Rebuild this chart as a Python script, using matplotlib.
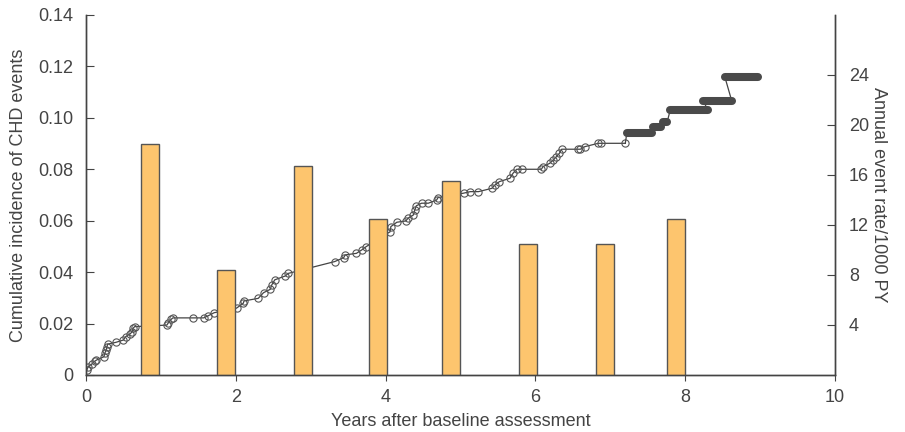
import numpy as np
import matplotlib
matplotlib.use("Agg")
import matplotlib.pyplot as plt

plt.rcParams['font.family'] = ['Liberation Sans', 'DejaVu Sans']

# cumulative incidence curve (years, incidence)
t_pts = [0.01, 0.03, 0.08, 0.12, 0.14, 0.24, 0.25, 0.27, 0.28, 0.29, 0.40, 0.50, 0.53,
         0.59, 0.62, 0.63, 0.65,
         1.08, 1.10, 1.14, 1.16, 1.43, 1.57, 1.63, 1.71,
         2.01, 2.10, 2.11, 2.30, 2.37, 2.46, 2.48, 2.52, 2.66, 2.70,
         3.32, 3.44, 3.46, 3.61, 3.68, 3.74,
         4.06, 4.07, 4.15, 4.27, 4.30, 4.37, 4.39, 4.41, 4.48, 4.57, 4.68, 4.70,
         5.04, 5.13, 5.24, 5.42, 5.46, 5.52, 5.66, 5.70, 5.75, 5.82, 6.08, 6.10,
         6.19, 6.24, 6.28, 6.32, 6.35, 6.57, 6.60, 6.66, 6.84, 6.88, 7.20]
ci_pts = [0.0019, 0.0032, 0.0043, 0.0054, 0.0058, 0.0071, 0.0084, 0.0097, 0.0110, 0.0120,
          0.0127, 0.0136, 0.0149, 0.0160, 0.0169, 0.0182, 0.0188,
          0.0194, 0.0203, 0.0217, 0.0222, 0.0222, 0.0222, 0.0230, 0.0242,
          0.0260, 0.0279, 0.0288, 0.0298, 0.0320, 0.0333, 0.0350, 0.0370, 0.0385, 0.0395,
          0.0441, 0.0456, 0.0467, 0.0473, 0.0486, 0.0499,
          0.0557, 0.0577, 0.0594, 0.0599, 0.0610, 0.0622, 0.0642, 0.0658, 0.0668, 0.0668,
          0.0680, 0.0690,
          0.0707, 0.0713, 0.0713, 0.0726, 0.0739, 0.0752, 0.0765, 0.0784, 0.0800, 0.0800,
          0.0800, 0.0810, 0.0823, 0.0836, 0.0849, 0.0862, 0.0878, 0.0878, 0.0878, 0.0888,
          0.0901, 0.0901, 0.0901]

# late follow-up: dense marker runs (start year, end year, incidence)
band_start = [7.22, 7.57, 7.70, 7.80, 8.24, 8.53]
band_end = [7.55, 7.68, 7.76, 8.30, 8.62, 8.97]
band_ci = [0.0940, 0.0964, 0.0985, 0.1031, 0.1067, 0.1158]

# annual event rate bars
bar_x = [0.85, 1.87, 2.90, 3.90, 4.87, 5.90, 6.93, 7.88]
bar_rate = [18.5, 8.4, 16.7, 12.5, 15.5, 10.5, 10.5, 12.5]

txt = '#444444'
fig = plt.figure(figsize=(9.05, 4.32), dpi=100)
ax = fig.add_axes([0.095, 0.132, 0.8277, 0.8333])
ax2 = ax.twinx()

# curve
ax.plot(t_pts, ci_pts, color='#444444', lw=0.9, marker='o', ms=5.2,
        mfc='none', mec='#555555', mew=0.8, zorder=2)
# thin connection through the late runs
path_t = [t_pts[-1]]
path_c = [ci_pts[-1]]
for s, e, c in zip(band_start, band_end, band_ci):
    path_t += [s, e]
    path_c += [c, c]
ax.plot(path_t, path_c, color='#444444', lw=0.9, zorder=2)
for s, e, c in zip(band_start, band_end, band_ci):
    ax.plot([s, e], [c, c], color='#4a4a4a', lw=5.8, solid_capstyle='round', zorder=2)

ax2.bar(bar_x, bar_rate, width=0.24, color='#FDC56E', edgecolor='#555555', lw=1.0)

ax.set_xlim(0, 10)
ax.set_ylim(0, 0.14)
ax2.set_ylim(0, 28.8)

ax.set_xticks([0, 2, 4, 6, 8, 10])
ax.set_yticks([0, 0.02, 0.04, 0.06, 0.08, 0.10, 0.12, 0.14])
ax.set_yticklabels(['0', '0.02', '0.04', '0.06', '0.08', '0.10', '0.12', '0.14'])
ax2.set_yticks([4, 8, 12, 16, 20, 24])

for a in (ax, ax2):
    a.spines['top'].set_visible(False)
    for sp in a.spines.values():
        sp.set_color('#444444')
        sp.set_linewidth(1.0)

ax.tick_params(axis='y', direction='in', length=6, pad=9, labelsize=13, colors=txt)
ax.tick_params(axis='x', direction='out', length=4, pad=6, labelsize=13, colors=txt)
ax2.tick_params(axis='y', direction='in', length=6, pad=10, labelsize=13, colors=txt)

ax.set_xlabel('Years after baseline assessment', fontsize=13, color=txt, labelpad=5)
ax.set_ylabel('Cumulative incidence of CHD events', fontsize=13, color=txt, labelpad=8)
ax2.set_ylabel('Annual event rate/1000 PY', fontsize=13, color=txt, rotation=-90,
               labelpad=13)

fig.savefig('out.png', dpi=100)
